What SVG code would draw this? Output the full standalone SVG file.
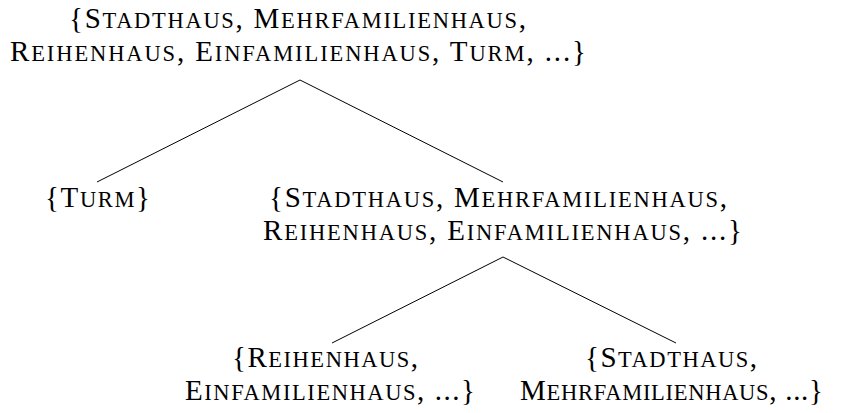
<svg xmlns="http://www.w3.org/2000/svg" width="841" height="413" viewBox="0 0 841 413">
  <style>
    text { font-family: "Liberation Serif", "DejaVu Serif", serif; font-size: 29px; fill: #000; }
    .sc { font-size: 22.5px; }
    .edge { stroke: #000; stroke-width: 1; fill: none; }
  </style>
  <rect width="841" height="413" fill="#fff"/>

  <!-- tree edges -->
  <g id="edges">
    <line class="edge" x1="300" y1="80" x2="97" y2="182"/>
    <line class="edge" x1="300" y1="80" x2="503" y2="182"/>
    <line class="edge" x1="503" y1="257" x2="332" y2="343"/>
    <line class="edge" x1="503" y1="257" x2="676" y2="343"/>
  </g>

  <g id="root">
    <text x="69" y="28" textLength="457" lengthAdjust="spacing">{S<tspan class="sc">TADTHAUS</tspan>, M<tspan class="sc">EHRFAMILIENHAUS</tspan>,</text>
    <text x="10" y="61" textLength="576" lengthAdjust="spacing">R<tspan class="sc">EIHENHAUS</tspan>, E<tspan class="sc">INFAMILIENHAUS</tspan>, T<tspan class="sc">URM</tspan>, ...}</text>
  </g>

  <g id="turm">
    <text x="45" y="207" textLength="105" lengthAdjust="spacing">{T<tspan class="sc">URM</tspan>}</text>
  </g>

  <g id="rest">
    <text x="269" y="207" textLength="458" lengthAdjust="spacing">{S<tspan class="sc">TADTHAUS</tspan>, M<tspan class="sc">EHRFAMILIENHAUS</tspan>,</text>
    <text x="263" y="240" textLength="479" lengthAdjust="spacing">R<tspan class="sc">EIHENHAUS</tspan>, E<tspan class="sc">INFAMILIENHAUS</tspan>, ...}</text>
  </g>

  <g id="reihen-einfamilien">
    <text x="232" y="367" textLength="186" lengthAdjust="spacing">{R<tspan class="sc">EIHENHAUS</tspan>,</text>
    <text x="185" y="400" textLength="290" lengthAdjust="spacing">E<tspan class="sc">INFAMILIENHAUS</tspan>, ...}</text>
  </g>

  <g id="stadt-mehrfamilien">
    <text x="585" y="367" textLength="172" lengthAdjust="spacing">{S<tspan class="sc">TADTHAUS</tspan>,</text>
    <text x="520" y="400" textLength="303" lengthAdjust="spacing">M<tspan class="sc">EHRFAMILIENHAUS</tspan>, ...}</text>
  </g>
</svg>
